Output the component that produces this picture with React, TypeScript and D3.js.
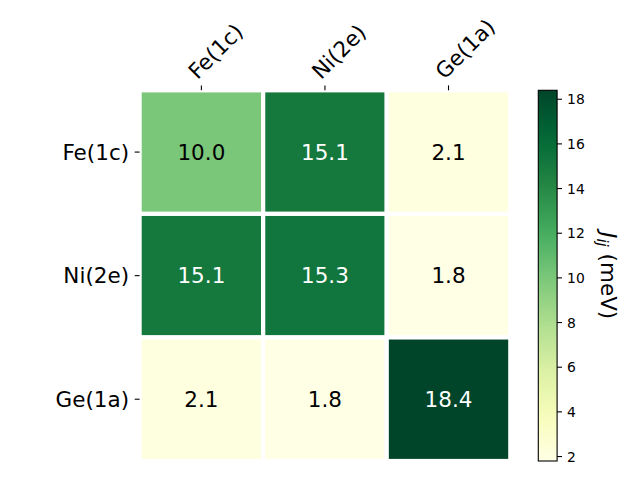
import React from 'react'
import * as d3 from 'd3'

const WIDTH = 640
const HEIGHT = 480
const PLOT = { left: 139.6, top: 90.3, size: 370.7 }
const CBAR = { left: 538.3, width: 18.8 }
const FONT = 'DejaVu Sans, Verdana, sans-serif'

const sites = ['Fe(1c)', 'Ni(2e)', 'Ge(1a)']
const feRow = [10.0, 15.1, 2.1]
const niRow = [15.1, 15.3, 1.8]
const geRow = [2.1, 1.8, 18.4]
const cbarTicks = [2, 4, 6, 8, 10, 12, 14, 16, 18]
const vmin = 1.8
const vmax = 18.4

// matplotlib YlGn control colours
const ylgn = ['#ffffe5', '#f7fcb9', '#d9f0a3', '#addd8e', '#78c679', '#41ab5d', '#238443', '#006837', '#004529']

const rows = [feRow, niRow, geRow]

const App = () => {
  const x = d3.scaleBand().domain(sites).range([PLOT.left, PLOT.left + PLOT.size])
  const y = d3.scaleBand().domain(sites).range([PLOT.top, PLOT.top + PLOT.size])
  const color = d3
    .scaleLinear<string>()
    .domain(ylgn.map((_, i) => vmin + (i / (ylgn.length - 1)) * (vmax - vmin)))
    .range(ylgn)
    .interpolate(d3.interpolateRgb)
    .clamp(true)
  const cy = d3.scaleLinear().domain([vmin, vmax]).range([PLOT.top + PLOT.size, PLOT.top])
  const threshold = (vmin + vmax) / 2 + 3

  const cells = rows.flatMap((row, i) =>
    row.map((v, j) => ({ row: sites[i], col: sites[j], v }))
  )
  const stops = d3.range(0, 1.0001, 0.05)

  return (
    <svg width={WIDTH} height={HEIGHT} style={{ position: 'absolute', left: 0, top: 0 }} fontFamily={FONT}>
      <defs>
        <linearGradient id="cbar" x1="0" y1="1" x2="0" y2="0">
          {stops.map(t => (
            <stop key={t} offset={t} stopColor={color(vmin + t * (vmax - vmin))} />
          ))}
        </linearGradient>
      </defs>
      <rect width={WIDTH} height={HEIGHT} fill="white" />

      {cells.map(c => (
        <g key={c.row + c.col}>
          <rect
            x={x(c.col)}
            y={y(c.row)}
            width={x.bandwidth()}
            height={y.bandwidth()}
            fill={color(c.v)}
            stroke="white"
            strokeWidth={4.2}
          />
          <text
            x={x(c.col)! + x.bandwidth() / 2}
            y={y(c.row)! + y.bandwidth() / 2}
            dy="0.36em"
            textAnchor="middle"
            fontSize={21.5}
            fill={c.v > threshold ? 'white' : 'black'}
          >
            {c.v.toFixed(1)}
          </text>
        </g>
      ))}

      {sites.map(s => {
        const tx = x(s)! + x.bandwidth() / 2
        return (
          <g key={'x' + s}>
            <line x1={tx} x2={tx} y1={PLOT.top} y2={PLOT.top - 4.9} stroke="black" strokeWidth={1.1} />
            <text
              transform={`translate(${tx - 4},${PLOT.top - 10}) rotate(-45)`}
              fontSize={21.5}
              textAnchor="start"
            >
              {s}
            </text>
          </g>
        )
      })}

      {sites.map(s => {
        const ty = y(s)! + y.bandwidth() / 2
        return (
          <g key={'y' + s}>
            <line x1={PLOT.left} x2={PLOT.left - 4.9} y1={ty} y2={ty} stroke="black" strokeWidth={1.1} />
            <text x={PLOT.left - 10.5} y={ty} dy="0.36em" fontSize={21.5} textAnchor="end">
              {s}
            </text>
          </g>
        )
      })}

      <rect
        x={CBAR.left}
        y={PLOT.top}
        width={CBAR.width}
        height={PLOT.size}
        fill="url(#cbar)"
        stroke="black"
        strokeWidth={1.1}
      />
      {cbarTicks.map(t => (
        <g key={'c' + t}>
          <line
            x1={CBAR.left + CBAR.width}
            x2={CBAR.left + CBAR.width + 4.9}
            y1={cy(t)}
            y2={cy(t)}
            stroke="black"
            strokeWidth={1.1}
          />
          <text x={CBAR.left + CBAR.width + 10} y={cy(t)} dy="0.36em" fontSize={13.9}>
            {t}
          </text>
        </g>
      ))}

      <text
        transform={`translate(601,${PLOT.top + PLOT.size / 2}) rotate(90)`}
        textAnchor="middle"
        fontSize={21.5}
      >
        <tspan fontStyle="italic">J</tspan>
        <tspan fontStyle="italic" fontSize={15} dy={4}>ij</tspan>
        <tspan dy={-4}> (meV)</tspan>
      </text>
    </svg>
  )
}

export default App
